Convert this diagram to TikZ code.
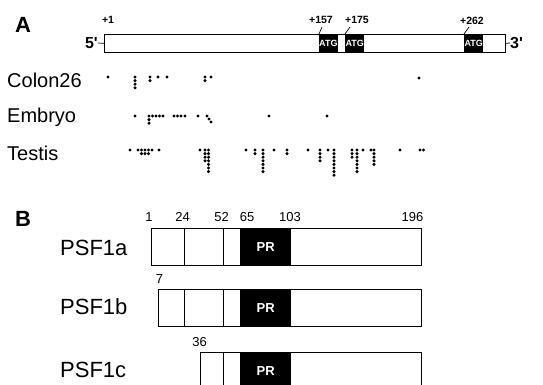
\documentclass[tikz,border=0pt]{standalone}
\usepackage{fontspec}
\setmainfont{Liberation Sans}
\usetikzlibrary{positioning, calc}

\begin{document}
\begin{tikzpicture}[x=1pt, y=-1pt,
  panel/.style={inner sep=0pt, font=\fontsize{22}{24}\selectfont\bfseries},
  endlbl/.style={inner sep=0pt, font=\fontsize{16}{18}\selectfont\bfseries},
  ntlbl/.style={inner sep=0pt, font=\fontsize{10.5}{11}\selectfont\bfseries},
  tissue/.style={anchor=base west, inner sep=0pt, font=\fontsize{20}{24}\selectfont},
  prot/.style={anchor=west, inner sep=0pt, font=\fontsize{22}{24}\selectfont},
  resnum/.style={anchor=south, inner sep=0pt, font=\fontsize{13}{14}\selectfont},
  seg/.style={draw=black, line width=0.7pt, inner sep=0pt},
  atg/.style={fill=black, text=white, inner sep=0pt, anchor=north west,
              minimum height=18, font=\fontsize{9}{10}\selectfont\bfseries},
  pr/.style={fill=black, text=white, inner sep=0pt, anchor=north west,
             minimum width=51, minimum height=37, font=\fontsize{13}{14}\selectfont\bfseries},
  tick/.style={black, line width=0.7pt}
]
\useasboundingbox (0,0) rectangle (543,385);
\clip (0,0) rectangle (543,385);
\def\xD{184}
\def\xE{223}
\def\xP{240}

\node[panel] (lblA) at (23,25) {A};
\node[panel] (lblB) at (23,219) {B};

\node[seg, anchor=north west, minimum width=401, minimum height=18] (mrna) at (104,34) {};
\node[atg, minimum width=18] (atg1) at (319,34) {ATG};
\node[atg, minimum width=19] (atg2) at (345,34) {ATG};
\node[atg, minimum width=19] (atg3) at (464,34) {ATG};
\node[endlbl, anchor=east] (five) at (98,43) {5\textquotesingle};
\node[endlbl, anchor=west] (three) at (510,43) {3\textquotesingle};
\draw[tick] (five.east) -- (mrna.west);
\draw[tick] (mrna.east) -- (three.west);

\node[ntlbl] (p1) at (108,20) {+1};
\node[ntlbl] (p157) at (321,20) {+157};
\node[ntlbl] (p175) at (357,20) {+175};
\node[ntlbl] (p262) at (472,21) {+262};
\draw[tick] (atg1.north west) -- ++(3,-7);
\draw[tick] (atg2.north west) -- ++(5,-7);
\draw[tick] (atg3.north west) -- ++(5,-7);

\node[tissue] (colon) at (7,88) {Colon26};
\node[tissue] (embryo) at (7,123) {Embryo};
\node[tissue] (testis) at (7,160) {Testis};

\foreach \x/\y/\n in {108/77/1, 135/77/4, 150/77/2, 158/77/1, 167/77/1, 205/77/2,
    211/77/1, 419/78/1,
    135/116/1, 149/116/3, 152.5/116/1, 156/116/1, 159.5/116/1, 163/116/1,
    174/116/1, 177.5/116/1, 181/116/1, 185/116/1, 198/116/1, 207/116/1,
    209/119/1, 211/122/1, 269/116/1, 327/116/1,
    130/150/1, 138/150/1, 141.5/150/2, 145/150/2, 148.5/150/2, 152/150/1,
    159/150/1, 200/150/1, 205/150/4, 208.5/150/7, 246/150/1, 255/150/2,
    263/150/7, 274/150/1, 287/150/2, 308/150/1, 320/150/4, 328/150/1,
    334/150/8, 352/150/3, 357/150/7, 363/150/1, 371/150/1, 374/150/5,
    400/150/1, 420/150/1, 423.5/150/1}
  \foreach \k in {1,...,\n}
    \fill (\x,{\y+3.6*(\k-1)}) circle (1.7pt);

\node[seg, anchor=north west, minimum width=270, minimum height=37] (psf1a) at (151,228) {};
\node[pr] (pra) at (\xP,228) {PR};
\draw[seg] (\xD,0 |- psf1a.north) -- (\xD,0 |- psf1a.south);
\draw[seg] (\xE,0 |- psf1a.north) -- (\xE,0 |- psf1a.south);
\node[prot] (nma) at (60,248) {PSF1a};
\node[resnum] (r1) at (149,222) {1};
\node[resnum] (r24) at (182.5,222) {24};
\node[resnum] (r52) at (221.5,222) {52};
\node[resnum] (r65) at (247,222) {65};
\node[resnum] (r103) at (290,222) {103};
\node[resnum] (r196) at (412.5,222) {196};

\node[seg, anchor=north west, minimum width=263, minimum height=37] (psf1b) at (158,289) {};
\node[pr] (prb) at (\xP,289) {PR};
\draw[seg] (\xD,0 |- psf1b.north) -- (\xD,0 |- psf1b.south);
\draw[seg] (\xE,0 |- psf1b.north) -- (\xE,0 |- psf1b.south);
\node[prot] (nmb) at (60,307) {PSF1b};
\node[resnum] (r7) at (159.5,284) {7};

\node[seg, anchor=north west, minimum width=221, minimum height=37] (psf1c) at (200,352) {};
\node[pr] (prc) at (\xP,352) {PR};
\draw[seg] (\xE,0 |- psf1c.north) -- (\xE,0 |- psf1c.south);
\node[prot] (nmc) at (60,370) {PSF1c};
\node[resnum] (r36) at (199.5,347) {36};
\end{tikzpicture}
\end{document}
